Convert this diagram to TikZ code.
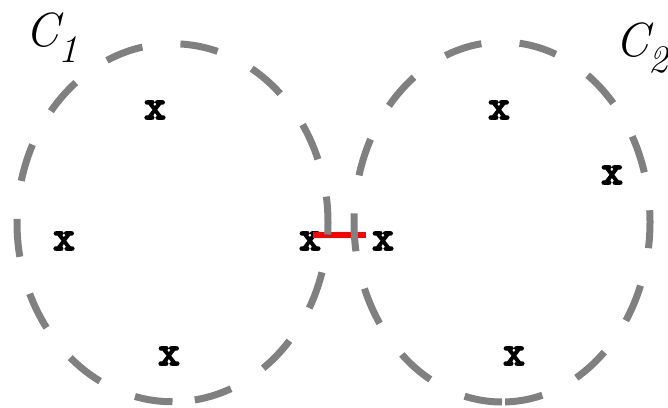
\documentclass[tikz,border=0pt]{standalone}
\usepackage{fontspec}
\newfontfamily\xfont{lmmonolt10-bold.otf}[FakeBold=3]
\begin{document}
\begin{tikzpicture}[x=1pt,y=1pt,
  ring/.style={draw=gray, line width=7pt, dash pattern=on 38pt off 38.3pt},
  xpt/.style={inner sep=0pt, font=\fontsize{42}{42}\selectfont\xfont},
  clabel/.style={inner sep=0pt, anchor=base west, font=\fontsize{48}{50}\selectfont\itshape},
  link/.style={draw=red, line width=6pt}
]
\useasboundingbox (0,0) rectangle (668,407);
% points
\node[xpt] (a1) at (155,297) {x};
\node[xpt] (a2) at (64,166) {x};
\node[xpt] (a3) at (310,166) {x};
\node[xpt] (a4) at (169,51) {x};
\node[xpt] (b1) at (499,297) {x};
\node[xpt] (b2) at (612,232) {x};
\node[xpt] (b3) at (383,166) {x};
\node[xpt] (b4) at (514,51) {x};
% red link
\coordinate (r1) at (313,172);
\coordinate (r2) at (366,172);
\draw[link] (r1) -- (r2);
% circles
\draw[ring] (172.5,5.25) arc[start angle=270, end angle=-90, x radius=155.5pt, y radius=179pt];
\draw[ring] (502,5) arc[start angle=270, end angle=-90, x radius=148pt, y radius=180pt];
% labels
\node[clabel] (c1) at (25,360) {C\raisebox{-16pt}{\fontsize{39}{40}\selectfont 1}};
\node[clabel] (c2) at (615,350) {C\raisebox{-16pt}{\fontsize{39}{40}\selectfont 2}};
\end{tikzpicture}
\end{document}
